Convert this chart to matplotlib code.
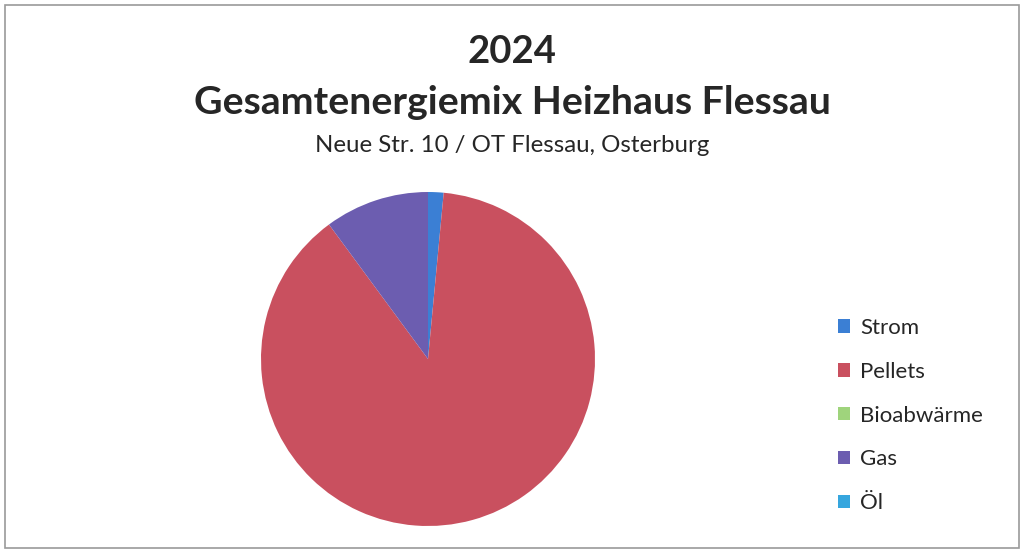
import matplotlib
matplotlib.use("Agg")
import matplotlib.pyplot as plt
from matplotlib.patches import Patch, Rectangle

# values (share of total, %)
labels = ["Strom", "Pellets", "Bioabwärme", "Gas", "Öl"]
shares = [1.5, 88.4, 0.0, 10.1, 0.0]
colors = ["#3b7fd4", "#c9505f", "#9fd47c", "#6c5db0", "#36a6de"]

plt.rcParams["font.family"] = ["Lato", "DejaVu Sans"]

W, H = 1024, 551
fig = plt.figure(figsize=(W / 100, H / 100), dpi=100)

# outer chart frame
fig.patches.append(Rectangle((5 / W, 3 / H), 1014 / W, 543 / H,
                             transform=fig.transFigure, fill=False,
                             ec="#9a9a9a", lw=1.2))

fig.text(0.5, 1 - 52 / H, "2024", ha="center", va="center",
         fontsize=27.5, fontweight="bold", color="#262626")
fig.text(0.5, 1 - 103 / H, "Gesamtenergiemix Heizhaus Flessau",
         ha="center", va="center", fontsize=28.3, fontweight="bold",
         color="#262626")
fig.text(0.5, 1 - 146 / H, "Neue Str. 10 / OT Flessau, Osterburg",
         ha="center", va="center", fontsize=17.3, color="#262626")

# pie: center (428, 359) px, radius 167 px
cx, cy, r = 428, 359, 167
ax = fig.add_axes([(cx - r) / W, (H - cy - r) / H, 2 * r / W, 2 * r / H])
ax.pie(shares, colors=colors, startangle=90, counterclock=False,
       radius=1, wedgeprops=dict(linewidth=0))
ax.set_xlim(-1, 1)
ax.set_ylim(-1, 1)
ax.set_aspect("equal")
ax.axis("off")

handles = [Patch(facecolor=c, edgecolor="none") for c in colors]
fig.legend(handles, labels, loc="upper left",
           bbox_to_anchor=(818 / W, 1 - 298 / H), frameon=False,
           fontsize=16, handlelength=0.55, handleheight=0.55,
           handletextpad=0.45, labelspacing=1.07, labelcolor="#262626")

fig.savefig("out.png", dpi=100)
